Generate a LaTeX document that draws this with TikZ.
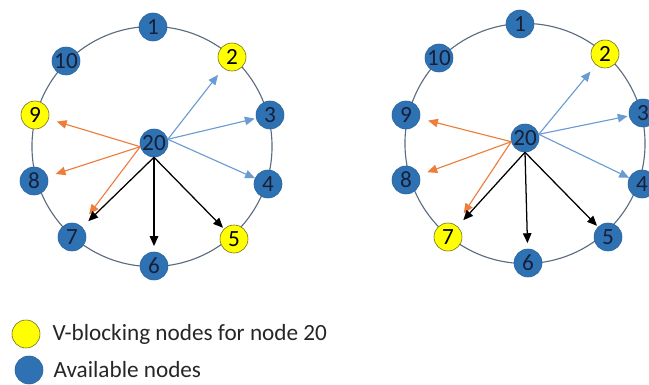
\documentclass[tikz,border=0pt]{standalone}
\usepackage{fontspec}
\setmainfont{Carlito}
\usepackage{tikz}
\usetikzlibrary{positioning,shapes,arrows.meta}

\definecolor{nodeblue}{HTML}{2E72B4}
\definecolor{nodeyellow}{HTML}{FFFF00}
\definecolor{ringgray}{HTML}{5B6B80}
\definecolor{arrblue}{HTML}{6A9BD2}
\definecolor{arrorange}{HTML}{EC7D3A}
\definecolor{darknavy}{HTML}{172038}

\begin{document}
\begin{tikzpicture}[%
        x=0.025cm, y=-0.025cm,
        shorten >=3pt,
        >={Triangle[length=7pt,width=6pt]},
        node distance=0.25cm,
        font=\fontsize{16.5}{19}\selectfont,
        avail/.style={%
          circle,
          minimum size=0.7cm,
          inner sep=0pt,
          fill=nodeblue,
          draw=nodeblue!85!black,
          text=darknavy
        },
        vblock/.style={%
          avail,
          fill=nodeyellow,
          draw=olive!70!black,
          text=black
        },
        ring/.style={draw=ringgray, line width=0.8pt},
        bluearr/.style={->, draw=arrblue, line width=0.8pt},
        orangearr/.style={->, draw=arrorange, line width=0.8pt},
        blackarr/.style={->, draw=black, line width=0.9pt},
        legendtext/.style={text=black!85, anchor=west, inner sep=0pt}
      ]
      \useasboundingbox (0,0) rectangle (649,385);

      % left ring
      \draw[ring] (152,146.5) circle [radius=3cm];
      \node[avail]  (a1)  at (153,27)  {1};
      \node[vblock] (a2)  at (232,57)  {2};
      \node[avail]  (a3)  at (270,115) {3};
      \node[avail]  (a4)  at (268,184) {4};
      \node[vblock] (a5)  at (234,239) {5};
      \node[avail]  (a6)  at (154,266) {6};
      \node[avail]  (a7)  at (72,237)  {7};
      \node[avail]  (a8)  at (34,181)  {8};
      \node[vblock] (a9)  at (35,115)  {9};
      \node[avail]  (a10) at (66,61)   {10};
      \node[avail]  (a20) at (154,143) {20};

      \path (a20.15) edge [bluearr, shorten >=6pt] (a2)
      (a20.15) edge [bluearr, shorten >=1pt] (a3)
      (a20.15) edge [bluearr, shorten >=0pt] (a4)
      (a20.195) edge [orangearr, shorten >=6pt] (a9)
      (a20.195) edge [orangearr, shorten >=6pt] (a8)
      (a20.195) edge [orangearr, shorten >=10pt] (a7)
      (a20.south) edge [blackarr, shorten >=6pt] (a7)
      (a20.south) edge [blackarr, shorten >=4pt] (a6)
      (a20.south) edge [blackarr, shorten >=1pt] (a5);

      % right ring
      \draw[ring] (525,143.5) circle [radius=3cm];
      \node[avail]  (b1)  at (520,24)  {1};
      \node[vblock] (b2)  at (605,54)  {2};
      \node[avail]  (b3)  at (643,113) {3};
      \node[avail]  (b4)  at (642,184) {4};
      \node[avail]  (b5)  at (608,237) {5};
      \node[avail]  (b6)  at (528,263) {6};
      \node[vblock] (b7)  at (448,237) {7};
      \node[avail]  (b8)  at (406,180) {8};
      \node[avail]  (b9)  at (406,115) {9};
      \node[avail]  (b10) at (439,58)  {10};
      \node[avail]  (b20) at (525,138) {20};

      \path (b20.15) edge [bluearr, shorten >=6pt] (b2)
      (b20.15) edge [bluearr, shorten >=1pt] (b3)
      (b20.15) edge [bluearr, shorten >=0pt] (b4)
      (b20.195) edge [orangearr, shorten >=6pt] (b9)
      (b20.195) edge [orangearr, shorten >=6pt] (b8)
      (b20.195) edge [orangearr, shorten >=10pt] (b7)
      (b20.south) edge [blackarr, shorten >=6pt] (b7)
      (b20.south) edge [blackarr, shorten >=4pt] (b6)
      (b20.south) edge [blackarr, shorten >=1pt] (b5);

      % legend
      \node[vblock] (ly) at (26,334) {};
      \node[avail]  (lb) at (29,370) {};
      \node[legendtext] (lyt) [right=0.3cm of ly] {V-blocking nodes for node 20};
      \node[legendtext] (lbt) [right=0.25cm of lb] {Available nodes};
  \end{tikzpicture}
\end{document}
